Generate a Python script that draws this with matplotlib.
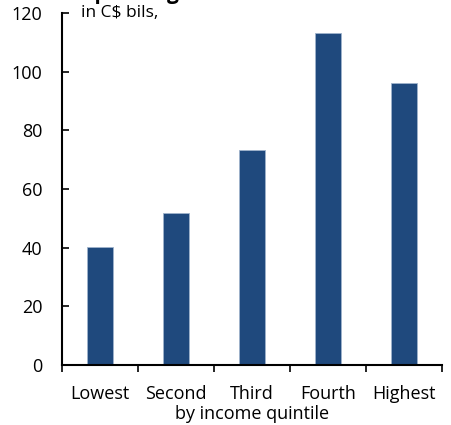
import numpy as np
import matplotlib.pyplot as plt
import matplotlib.ticker as ticker

plt.rcParams['font.family'] = ['Open Sans', 'DejaVu Sans']

# Spending by income quintile, C$ billions
quintiles = ["Lowest", "Second", "Third", "Fourth", "Highest"]
spending = [40.2, 51.9, 73.4, 113.1, 96.2]
y_ticks = [0, 20, 40, 60, 80, 100, 120]

BAR_COLOR = "#1f497d"

fig = plt.figure(figsize=(4.51, 4.25), dpi=100)
fig.patch.set_facecolor("white")
ax = fig.add_axes([0.1375, 0.141, 0.843, 0.828])

x = np.arange(len(quintiles))
ax.bar(x, spending, width=0.34, color=BAR_COLOR,
       edgecolor="#9fb3cc", linewidth=0.6)

ax.set_xlim(-0.5, len(quintiles) - 0.5)
ax.set_ylim(0, 120)
ax.set_yticks(y_ticks)
ax.tick_params(axis='y', direction='in', length=5, width=1.2,
               labelsize=13, pad=14)

# category boundary ticks below the axis, labels centred between them
ax.xaxis.set_major_locator(ticker.FixedLocator(np.arange(-0.5, len(quintiles), 1.0)))
ax.xaxis.set_major_formatter(ticker.NullFormatter())
ax.xaxis.set_minor_locator(ticker.FixedLocator(x))
ax.xaxis.set_minor_formatter(ticker.FixedFormatter(quintiles))
ax.tick_params(axis='x', which='major', direction='out', length=5, width=1.2)
ax.tick_params(axis='x', which='minor', length=0, labelsize=13, pad=14)

ax.set_xlabel("by income quintile", fontsize=13, labelpad=2)

ax.spines['top'].set_visible(False)
ax.spines['right'].set_visible(False)
ax.spines['left'].set_linewidth(1.5)
ax.spines['bottom'].set_linewidth(1.5)

ax.text(0.05, 1.0, "in C$ bils,", transform=ax.transAxes,
        fontsize=12.5, va='center', ha='left')

fig.text(0.184, 1 + 1 / 425, "Spending", fontsize=15, fontweight='bold',
         va='baseline', ha='left')

fig.savefig("out.png", dpi=100, facecolor="white")
